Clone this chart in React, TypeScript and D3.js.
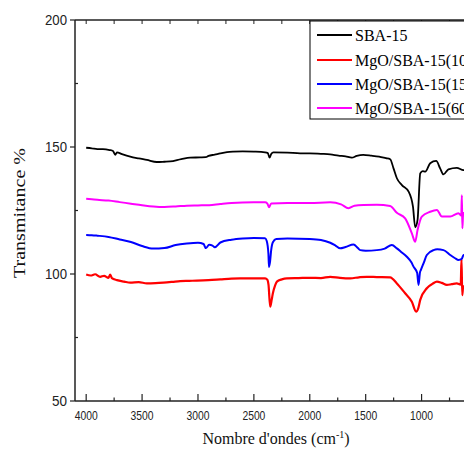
import React from "react";
import * as d3 from "d3";

const seriesNames = ["SBA-15", "MgO/SBA-15(10%)", "MgO/SBA-15(15%)", "MgO/SBA-15(60%)"];
const seriesColors = ["#000000", "#ff0000", "#0000ff", "#ff00ff"];

const xTicksMajor = [4000, 3500, 3000, 2500, 2000, 1500, 1000];
const xTicksMinor = [3750, 3250, 2750, 2250, 1750, 1250, 750];
const yTicksMajor = [50, 100, 150, 200];
const yTicksMinor = [75, 125, 175];

const sbaW = [4000,3950,3900,3850,3790,3760,3740,3725,3680,3606,3530,3457,3368,3300,3249,3150,3070,2980,2930,2906,2850,2801,2740,2682,2600,2500,2400,2375,2360,2345,2325,2200,2086,2000,1900,1817,1743,1680,1624,1580,1522,1450,1380,1320,1281,1251,1221,1176,1116,1077,1057,1036,1012,990,967,923,869,834,804,760,685,625,600];
const sbaV = [149.7,149.5,149.2,149.2,148.8,148.4,146.9,147.9,147.2,146.2,145.5,144.9,144.1,144.2,144.3,145.2,145.8,145.9,146.0,146.5,147.0,147.5,148.0,148.2,148.3,148.2,147.9,147.6,145.8,147.2,147.9,147.8,147.5,147.5,147.3,147.1,146.6,146.3,145.8,146.5,146.9,146.6,146.2,145.6,145.2,141.6,137.7,135.0,132.4,126.5,118.4,121.3,139.6,140.5,140.3,143.6,144.5,141.6,139.2,141.2,141.8,140.9,141.0];

const mg10W = [4000,3960,3920,3875,3840,3800,3785,3770,3725,3660,3606,3530,3457,3380,3309,3230,3159,3080,3010,2906,2801,2700,2623,2500,2399,2380,2369,2354,2340,2330,2310,2294,2250,2205,2100,1996,1900,1817,1730,1638,1560,1490,1400,1281,1221,1147,1087,1049,1030,1012,953,900,863,820,774,730,685,650,643,636,628,600];
const mg10V = [99.8,99.4,99.9,98.9,99.3,98.5,99.8,98.4,97.6,97.0,96.6,96.8,96.3,96.4,96.6,96.9,97.2,97.3,97.4,97.6,97.9,98.2,98.3,98.3,98.3,97.8,95.7,87.1,90.0,92.4,95.5,97.0,97.9,98.3,98.4,98.5,98.4,98.9,98.5,98.3,98.7,98.9,98.8,98.7,96.3,92.4,89.1,85.2,86.5,89.8,94.4,96.2,97.0,96.5,95.7,96.0,96.3,95.8,106.0,91.7,95.0,95.5];

const mg15W = [4000,3950,3900,3800,3700,3600,3500,3400,3300,3200,3100,3000,2950,2930,2900,2870,2850,2800,2700,2600,2500,2400,2385,2370,2365,2355,2345,2330,2300,2200,2000,1900,1817,1770,1728,1680,1609,1570,1549,1500,1400,1330,1266,1221,1180,1132,1090,1072,1040,1027,1015,1006,980,953,893,860,804,744,700,670,640,625,600];
const mg15V = [115.4,115.3,115.1,114.6,113.6,112.6,111.0,110.0,110.2,111.4,112.0,112.3,111.8,110.2,111.5,111.2,110.5,112.4,113.5,114.0,114.2,114.1,113.0,108.0,102.8,105.0,109.5,112.5,113.8,114.0,113.8,113.4,112.3,111.2,110.1,110.6,111.6,110.2,109.4,109.2,109.4,110.0,111.4,110.1,108.6,106.8,104.5,102.9,100.5,95.7,100.5,101.6,104.5,107.5,109.4,109.7,109.4,107.5,106.2,105.5,106.0,107.5,107.5];

const mg60W = [4000,3950,3900,3800,3700,3600,3500,3400,3300,3200,3100,3000,2900,2800,2700,2500,2400,2380,2365,2345,2200,2000,1817,1720,1654,1600,1520,1400,1281,1221,1147,1087,1057,1036,998,923,863,818,744,670,645,640,635,628,600];
const mg60V = [129.6,129.4,129.2,128.9,128.3,127.7,127.1,126.6,126.4,126.6,126.9,127.0,127.1,127.6,128.0,128.2,128.2,127.8,126.3,127.8,128.0,128.0,128.2,127.4,125.9,126.9,127.2,127.3,126.8,124.1,121.9,116.0,112.7,117.3,122.6,124.5,125.2,122.6,122.6,123.9,123.0,131.0,118.0,124.0,124.0];

const seriesW = [sbaW, mg10W, mg15W, mg60W];
const seriesV = [sbaV, mg10V, mg15V, mg60V];
const seriesStroke = [1.8, 2.2, 2.0, 2.0];

export default function App() {
  const W = 464, H = 457;
  const left = 75, top = 20, bottom = 401;
  const x = d3.scaleLinear().domain([4100, 400]).range([left, left + 3700 * 0.1118]);
  const y = d3.scaleLinear().domain([50, 200]).range([bottom, top]);
  const line = d3.line<[number, number]>().x(d => x(d[0])).y(d => y(d[1])).curve(d3.curveMonotoneX);
  const axisColor = "#222";
  const serif = "'Liberation Serif', 'Times New Roman', serif";
  const sans = "'Liberation Sans', Arial, sans-serif";
  const legendY = [35, 60, 84, 108];

  return (
    <svg width={W} height={H} style={{ position: "absolute", left: 0, top: 0, background: "#fff" }}>
      <rect x={0} y={0} width={W} height={H} fill="#fff" />
      <defs>
        <clipPath id="plotclip">
          <rect x={left} y={top} width={W - left} height={bottom - top} />
        </clipPath>
      </defs>
      <g clipPath="url(#plotclip)">
        {seriesW.map((ws, i) => (
          <path key={i}
            d={line(ws.map((w, j) => [w, seriesV[i][j]] as [number, number])) || ""}
            fill="none" stroke={seriesColors[i]} strokeWidth={seriesStroke[i]} strokeLinejoin="round" />
        ))}
      </g>
      {/* frame */}
      <line x1={left} y1={top} x2={W} y2={top} stroke={axisColor} strokeWidth={1.5} />
      <line x1={left} y1={bottom} x2={W} y2={bottom} stroke={axisColor} strokeWidth={1.5} />
      <line x1={left} y1={top} x2={left} y2={bottom} stroke={axisColor} strokeWidth={1.5} />
      {/* x ticks */}
      {xTicksMajor.map(t => (
        <g key={"xm" + t}>
          <line x1={x(t)} x2={x(t)} y1={bottom} y2={bottom - 7} stroke={axisColor} strokeWidth={1.2} />
          <line x1={x(t)} x2={x(t)} y1={top} y2={top + 4} stroke={axisColor} strokeWidth={1} />
          <text x={x(t)} y={419.5} textAnchor="middle" fontFamily={sans} fontSize={13}
            textLength={23} lengthAdjust="spacingAndGlyphs" fill={axisColor}>{t}</text>
        </g>
      ))}
      {xTicksMinor.map(t => (
        <g key={"xn" + t}>
          <line x1={x(t)} x2={x(t)} y1={bottom} y2={bottom - 3.5} stroke={axisColor} strokeWidth={1.2} />
          <line x1={x(t)} x2={x(t)} y1={top} y2={top + 4} stroke={axisColor} strokeWidth={1} />
        </g>
      ))}
      {/* y ticks */}
      {yTicksMajor.map(t => (
        <g key={"ym" + t}>
          <line x1={left - 5} x2={left} y1={y(t)} y2={y(t)} stroke={axisColor} strokeWidth={1.2} />
          <text x={67} y={y(t) + 5} textAnchor="end" fontFamily={sans} fontSize={14.5}
            textLength={t >= 100 ? 22 : 15} lengthAdjust="spacingAndGlyphs" fill={axisColor}>{t}</text>
        </g>
      ))}
      {yTicksMinor.map(t => (
        <line key={"yn" + t} x1={left} x2={left + 3} y1={y(t)} y2={y(t)} stroke={axisColor} strokeWidth={1.2} />
      ))}
      {/* axis titles */}
      <text transform="translate(25,213) rotate(-90)" textAnchor="middle" fontFamily={serif} fontSize={17}
        textLength={130} lengthAdjust="spacingAndGlyphs" fill="#111">Transmitance %</text>
      <text x={276} y={444} textAnchor="middle" fontFamily={serif} fontSize={16} fill="#111">
        Nombre d'ondes (cm<tspan dy={-6} fontSize={10}>-1</tspan><tspan dy={6}>)</tspan>
      </text>
      {/* legend */}
      <rect x={310} y={21} width={200} height={98} fill="#fff" stroke="#000" strokeWidth={1} />
      {seriesNames.map((n, i) => (
        <g key={n}>
          <line x1={317} x2={352} y1={legendY[i]} y2={legendY[i]} stroke={seriesColors[i]} strokeWidth={2} />
          <text x={355} y={legendY[i] + 6} fontFamily={serif} fontSize={16} fill="#000">{n}</text>
        </g>
      ))}
    </svg>
  );
}
